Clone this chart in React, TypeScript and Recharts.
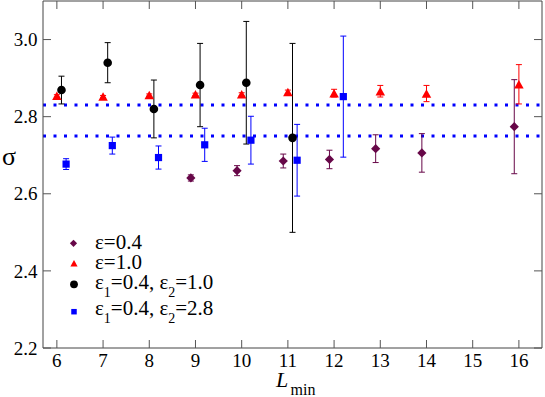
import React from 'react';
import { ScatterChart, Scatter, XAxis, YAxis, ErrorBar, ReferenceLine } from 'recharts';

const FONT = "'Liberation Serif'";

// ---- data ----
const xTicks = [6, 7, 8, 9, 10, 11, 12, 13, 14, 15, 16];
const yTicks = [2.2, 2.4, 2.6, 2.8, 3.0];
const yTickLabels = ['2.2', '2.4', '2.6', '2.8', '3.0'];
const refLineValues = [2.83, 2.75];

// eps = 0.4 (diamonds)
const d04X = [8.9, 9.9, 10.9, 11.9, 12.9, 13.9, 15.9];
const d04Y = [2.641, 2.66, 2.685, 2.689, 2.717, 2.706, 2.774];
const d04Err = [0.008, 0.013, 0.018, 0.024, 0.036, 0.05, 0.122];

// eps = 1.0 (triangles)
const t10X = [6, 7, 8, 9, 10, 11, 12, 13, 14, 16];
const t10Y = [2.854, 2.852, 2.856, 2.858, 2.858, 2.864, 2.861, 2.866, 2.86, 2.884];
const t10Err = [0.003, 0.003, 0.003, 0.003, 0.004, 0.005, 0.01, 0.015, 0.021, 0.051];

// eps1 = 0.4, eps2 = 1.0 (circles)
const c1X = [6.1, 7.1, 8.1, 9.1, 10.1, 11.1];
const c1Y = [2.869, 2.94, 2.82, 2.882, 2.888, 2.745];
const c1Err = [0.036, 0.052, 0.075, 0.108, 0.159, 0.245];

// eps1 = 0.4, eps2 = 2.8 (squares)
const s1X = [6.2, 7.2, 8.2, 9.2, 10.2, 11.2, 12.2];
const s1Y = [2.677, 2.725, 2.694, 2.727, 2.739, 2.687, 2.852];
const s1Err = [0.014, 0.022, 0.03, 0.043, 0.062, 0.093, 0.157];

const build = (xs: number[], ys: number[], es: number[]) =>
  xs.map((x, i) => ({ x, y: ys[i], err: es[i] }));

const dData = build(d04X, d04Y, d04Err);
const tData = build(t10X, t10Y, t10Err);
const cData = build(c1X, c1Y, c1Err);
const sData = build(s1X, s1Y, s1Err);

const MAROON = '#670748';
const RED = '#ff0000';
const BLACK = '#000000';
const BLUE = '#0000ff';
const FRAME = '#444444';
const TICK = '#555555';

// ---- shapes ----
const diamond = (cx: number, cy: number, r: number, fill: string) => (
  <polygon points={`${cx},${cy - r} ${cx + r},${cy} ${cx},${cy + r} ${cx - r},${cy}`} fill={fill} />
);
const triangle = (cx: number, cy: number, s: number, h: number, fill: string) => (
  <polygon points={`${cx},${cy - h / 2} ${cx + s / 2},${cy + h / 2} ${cx - s / 2},${cy + h / 2}`} fill={fill} />
);
const square = (cx: number, cy: number, a: number, fill: string) => (
  <rect x={cx - a / 2} y={cy - a / 2} width={a} height={a} fill={fill} />
);
const circle = (cx: number, cy: number, r: number, fill: string) => <circle cx={cx} cy={cy} r={r} fill={fill} />;

// ---- ticks ----
const BottomTick = (p: any) => (
  <g>
    <line x1={p.x} x2={p.x} y1={p.y} y2={p.y - 8} stroke={TICK} strokeWidth={1} />
    <text x={p.x} y={p.y + 18.5} textAnchor="middle" style={{ fontFamily: FONT, fontSize: 19 }} fill="#000">
      {p.payload.value}
    </text>
  </g>
);
const TopTick = (p: any) => (
  <line x1={p.x} x2={p.x} y1={p.y} y2={p.y + 8} stroke={TICK} strokeWidth={1} />
);
const LeftTick = (p: any) => {
  const idx = yTicks.findIndex((v) => Math.abs(v - p.payload.value) < 1e-9);
  return (
    <g>
      <line x1={p.x} x2={p.x + 8} y1={p.y} y2={p.y} stroke={TICK} strokeWidth={1} />
      <text x={p.x - 5.5} y={p.y} dy="0.35em" textAnchor="end" style={{ fontFamily: FONT, fontSize: 19 }} fill="#000">
        {yTickLabels[idx]}
      </text>
    </g>
  );
};
const RightTick = (p: any) => (
  <line x1={p.x} x2={p.x - 8} y1={p.y} y2={p.y} stroke={TICK} strokeWidth={1} />
);

export default function App() {
  return (
    <div style={{ position: 'absolute', left: 0, top: 0, width: 545, height: 397, background: '#fff' }}>
      <ScatterChart width={545} height={397} margin={{ top: 0, right: 0, bottom: 0, left: 0 }}>
        <XAxis
          xAxisId="b"
          type="number"
          dataKey="x"
          orientation="bottom"
          domain={[5.7, 16.5]}
          allowDataOverflow
          ticks={xTicks}
          height={49}
          tickSize={0}
          tickMargin={0}
          tickLine={false}
          axisLine={{ stroke: FRAME, strokeWidth: 1 }}
          tick={BottomTick}
          interval={0}
        />
        <XAxis
          xAxisId="t"
          type="number"
          dataKey="x"
          orientation="top"
          domain={[5.7, 16.5]}
          allowDataOverflow
          ticks={xTicks}
          height={1}
          tickSize={0}
          tickMargin={0}
          tickLine={false}
          axisLine={{ stroke: FRAME, strokeWidth: 1 }}
          tick={TopTick}
          interval={0}
        />
        <YAxis
          yAxisId="l"
          type="number"
          dataKey="y"
          orientation="left"
          domain={[2.2, 3.1]}
          allowDataOverflow
          ticks={yTicks}
          width={43}
          tickSize={0}
          tickMargin={0}
          tickLine={false}
          axisLine={{ stroke: FRAME, strokeWidth: 1 }}
          tick={LeftTick}
          interval={0}
        />
        <YAxis
          yAxisId="r"
          type="number"
          dataKey="y"
          orientation="right"
          domain={[2.2, 3.1]}
          allowDataOverflow
          ticks={yTicks}
          width={3}
          tickSize={0}
          tickMargin={0}
          tickLine={false}
          axisLine={{ stroke: FRAME, strokeWidth: 1 }}
          tick={RightTick}
          interval={0}
        />
        {refLineValues.map((v) => (
          <ReferenceLine
            key={v}
            xAxisId="b"
            yAxisId="l"
            y={v}
            stroke={BLUE}
            strokeWidth={3}
            strokeDasharray="3 7.5"
          />
        ))}
        <Scatter
          xAxisId="b"
          yAxisId="l"
          data={dData}
          fill={MAROON}
          isAnimationActive={false}
          shape={(p: any) => diamond(p.cx, p.cy, 4.6, MAROON)}
        >
          <ErrorBar dataKey="err" direction="y" width={3} stroke={MAROON} strokeWidth={1} />
        </Scatter>
        <Scatter
          xAxisId="b"
          yAxisId="l"
          data={tData}
          fill={RED}
          isAnimationActive={false}
          shape={(p: any) => triangle(p.cx, p.cy, 9.5, 8.5, RED)}
        >
          <ErrorBar dataKey="err" direction="y" width={3} stroke={RED} strokeWidth={1} />
        </Scatter>
        <Scatter
          xAxisId="b"
          yAxisId="l"
          data={cData}
          fill={BLACK}
          isAnimationActive={false}
          shape={(p: any) => circle(p.cx, p.cy, 4.3, BLACK)}
        >
          <ErrorBar dataKey="err" direction="y" width={3} stroke={BLACK} strokeWidth={1} />
        </Scatter>
        <Scatter
          xAxisId="b"
          yAxisId="l"
          data={sData}
          fill={BLUE}
          isAnimationActive={false}
          shape={(p: any) => square(p.cx, p.cy, 7.2, BLUE)}
        >
          <ErrorBar dataKey="err" direction="y" width={3} stroke={BLUE} strokeWidth={1} />
        </Scatter>
      </ScatterChart>
      <svg
        width={545}
        height={397}
        style={{ position: 'absolute', left: 0, top: 0, pointerEvents: 'none' }}
      >
        <text x={9} y={165} textAnchor="middle" style={{ fontFamily: FONT, fontSize: 26 }}>σ</text>
        <text x={276} y={387} style={{ fontFamily: FONT, fontSize: 22, fontStyle: 'italic' }}>L</text>
        <text x={290.5} y={395} style={{ fontFamily: FONT, fontSize: 16 }}>min</text>
        {diamond(73.5, 243.3, 3.6, MAROON)}
        {triangle(74, 263.3, 7.2, 6.6, RED)}
        {circle(74, 284.3, 3.9, BLACK)}
        {square(74, 311.7, 5.5, BLUE)}
        <text x={95} y={249} style={{ fontFamily: FONT, fontSize: 21 }}>ε=0.4</text>
        <text x={95} y={269} style={{ fontFamily: FONT, fontSize: 21 }}>ε=1.0</text>
        <text x={95} y={288.5} style={{ fontFamily: FONT, fontSize: 21 }}>
          ε<tspan style={{ fontSize: 14 }} dy={8}>1</tspan>
          <tspan dy={-8}>=0.4, ε</tspan>
          <tspan style={{ fontSize: 14 }} dy={8}>2</tspan>
          <tspan dy={-8}>=1.0</tspan>
        </text>
        <text x={95} y={315} style={{ fontFamily: FONT, fontSize: 21 }}>
          ε<tspan style={{ fontSize: 14 }} dy={8}>1</tspan>
          <tspan dy={-8}>=0.4, ε</tspan>
          <tspan style={{ fontSize: 14 }} dy={8}>2</tspan>
          <tspan dy={-8}>=2.8</tspan>
        </text>
      </svg>
    </div>
  );
}
